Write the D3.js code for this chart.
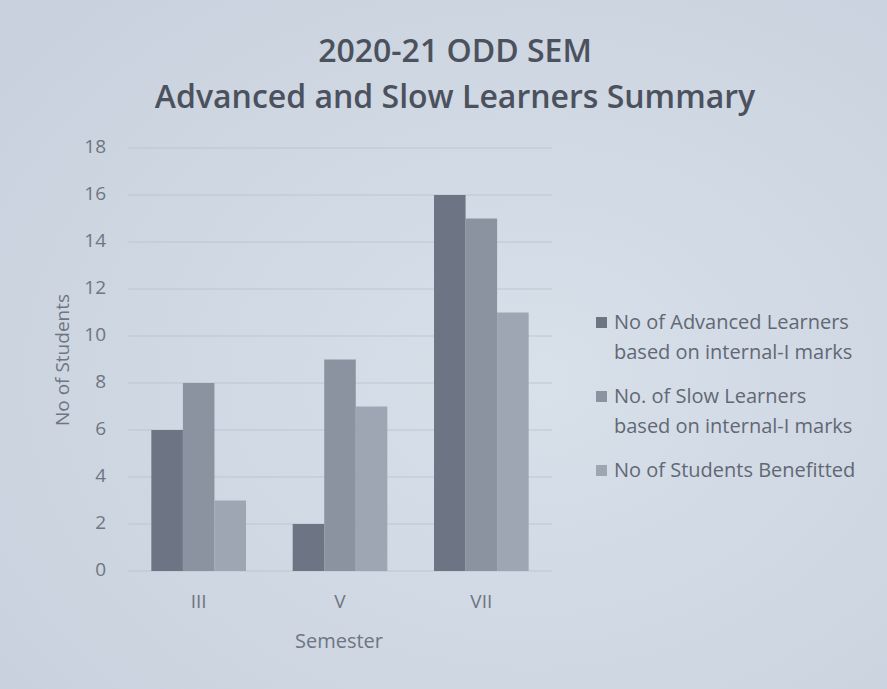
<!DOCTYPE html>
<html><head><meta charset="utf-8">
<script src="https://cdn.jsdelivr.net/npm/d3@7"></script>
<style>body{margin:0;background:#cfd8e4;} svg{display:block;}</style>
</head><body>
<svg id="c" width="887" height="689"></svg>
<script>
const semesters = ["III", "V", "VII"];
const seriesNames = [
  ["No of Advanced Learners", "based on internal-I marks"],
  ["No. of Slow Learners", "based on internal-I  marks"],
  ["No of Students Benefitted"]
];
const advanced = [6, 2, 16];
const slow = [8, 9, 15];
const benefitted = [3, 7, 11];
const yTicks = [0, 2, 4, 6, 8, 10, 12, 14, 16, 18];
const colors = ["#6d7483", "#8b93a1", "#9ea6b3"];

const svg = d3.select("#c");
const font = "'Open Sans', 'Liberation Sans', sans-serif";
const textCol = "#6f7581";

const defs = svg.append("defs");
const g0 = defs.append("radialGradient").attr("id", "bg").attr("cx", "60%").attr("cy", "55%").attr("r", "75%");
g0.append("stop").attr("offset", "0%").attr("stop-color", "#d8e0ea");
g0.append("stop").attr("offset", "100%").attr("stop-color", "#c8d1dd");
svg.append("rect").attr("width", 887).attr("height", 689).attr("fill", "url(#bg)");

const x = d3.scaleBand().domain(semesters).range([128, 552]).paddingInner(0).paddingOuter(0);
const inner = d3.scaleBand().domain([0, 1, 2]).range([0, x.bandwidth()]).paddingOuter(0.74).paddingInner(0);
const y = d3.scaleLinear().domain([0, 18]).range([571, 148]);

// gridlines
svg.append("g").selectAll("line").data(yTicks).join("line")
  .attr("x1", 128).attr("x2", 552)
  .attr("y1", d => y(d)).attr("y2", d => y(d))
  .attr("stroke", "#bcc5d2").attr("stroke-width", 1.2);

// y axis
const yAxis = d3.axisLeft(y).tickValues(yTicks).tickSize(0).tickPadding(0);
const ya = svg.append("g").attr("transform", "translate(106,-2)").call(yAxis);
ya.select(".domain").remove();
ya.selectAll("text").attr("font-family", font).attr("font-size", 19).attr("fill", textCol);

// bars
const data = [advanced, slow, benefitted];
const groups = svg.append("g").selectAll("g").data(semesters).join("g")
  .attr("transform", d => `translate(${x(d)},0)`);
groups.selectAll("rect").data((d, i) => data.map((s, k) => ({k, v: s[i]}))).join("rect")
  .attr("x", d => inner(d.k)).attr("width", inner.bandwidth())
  .attr("y", d => y(d.v)).attr("height", d => y(0) - y(d.v))
  .attr("fill", d => colors[d.k]);

// x axis
const xAxis = d3.axisBottom(x).tickSize(0).tickPadding(0);
const xa = svg.append("g").attr("transform", "translate(0,594)").call(xAxis);
xa.select(".domain").remove();
xa.selectAll("text").attr("font-family", font).attr("font-size", 19).attr("fill", textCol);

// axis titles
svg.append("text").attr("x", 339).attr("y", 648).attr("text-anchor", "middle")
  .attr("font-family", font).attr("font-size", 20).attr("fill", textCol).text("Semester");
svg.append("text").attr("transform", "translate(69,360) rotate(-90)").attr("text-anchor", "middle")
  .attr("font-family", font).attr("font-size", 19).attr("fill", textCol).text("No of Students");

// title
const title = svg.append("text").attr("text-anchor", "middle").attr("font-family", font)
  .attr("font-weight", 600).attr("fill", "#4b515d");
title.append("tspan").attr("x", 455).attr("y", 62).attr("font-size", 32).text("2020-21 ODD SEM");
title.append("tspan").attr("x", 455).attr("y", 108).attr("font-size", 32).text("Advanced and Slow Learners Summary");

// legend
const legY = [329, 403, 477];
seriesNames.forEach((lines, i) => {
  svg.append("rect").attr("x", 596).attr("y", legY[i] - 12).attr("width", 11).attr("height", 11).attr("fill", colors[i]);
  const t = svg.append("text").attr("font-family", font).attr("font-size", 20).attr("fill", "#626874");
  lines.forEach((ln, j) => t.append("tspan").attr("x", 614).attr("y", legY[i] + j * 30).text(ln));
});
</script>
</body></html>
